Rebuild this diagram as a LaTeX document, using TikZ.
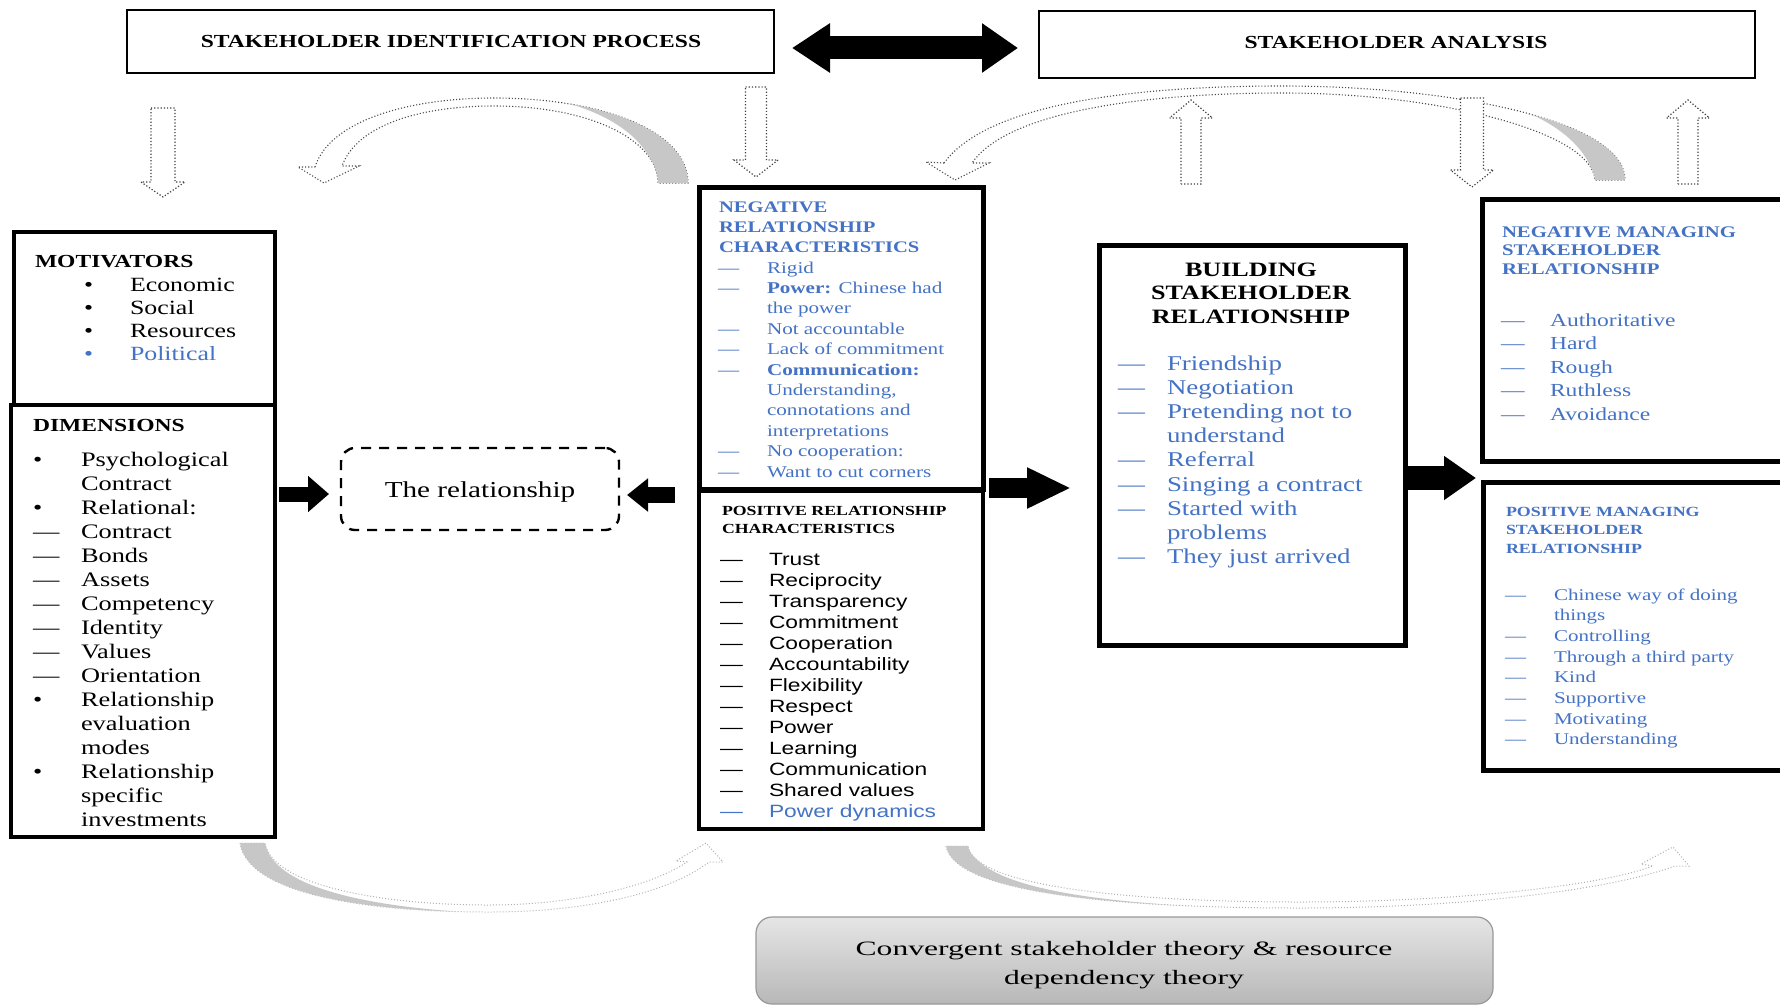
\documentclass[tikz,border=0pt]{standalone}
\usepackage{fontspec}
\setmainfont{Liberation Serif}[FakeStretch=1.28]
\setsansfont{Liberation Sans}[FakeStretch=1.28]
\newfontfamily\widefont{Liberation Serif}[FakeStretch=1.55]
\usetikzlibrary{arrows.meta,fit,calc}
\definecolor{myblue}{RGB}{68,114,196}
\newcommand\fsz[2]{\fontsize{#1}{#2}\selectfont}
\newcommand\mymark[1]{\if#1D—\else\if#1B•\else\if#1C\textcolor{myblue}{•}\else\if#1E\textcolor{myblue}{—}\fi\fi\fi\fi}
\tikzset{
  lst/.style={inner sep=0pt, outer sep=0pt},
  boxframe/.style={draw=black, line width=#1, inner sep=0pt, outer sep=0pt},
  boxframe/.default=2pt,
  hollowarr/.style={fill=white, draw=black!75, densely dotted, line width=0.6pt},
  arcline/.style={fill=white, draw=black!70, densely dotted, line width=0.55pt},
  arclight/.style={fill=white, draw=black!30, densely dotted, line width=0.5pt},
  arcgray/.style={fill=black!22},
}
% list of lines with markers: name, marker x, text x, first baseline, spacing, style, items
\newcommand\itemlist[7]{%
  \foreach \mkr/\txt [count=\i] in {#7}{%
    \if\mkr N\else
      \node[lst,anchor=base west,#6] (#1m\i) at (#2,{#4+(\i-1)*#5}) {\mymark\mkr};
    \fi
    \node[lst,anchor=base west,#6] (#1t\i) at (#3,{#4+(\i-1)*#5}) {\txt};
  }}
\newcommand\headlist[6]{%
  \foreach \txt [count=\i] in {#6}{%
    \node[lst,anchor=base west,#5] (#1\i) at (#2,{#3+(\i-1)*#4}) {\txt};
  }}
% vertical hollow arrow: cx, shaft half width, head half width, y tail, y head base, y tip
\newcommand\hollowv[6]{%
  \draw[hollowarr] (#1-#2,#4) -- (#1+#2,#4) -- (#1+#2,#5) -- (#1+#3,#5) -- (#1,#6) -- (#1-#3,#5) -- (#1-#2,#5) -- cycle;}

\begin{document}
\begin{tikzpicture}[x=0.5pt,y=-0.5pt]
\useasboundingbox (0,0) rectangle (1780,1006);
\clip (0,0) rectangle (1780,1006);
\fill[white] (0,0) rectangle (1780,1006);

% ---------- curved arrows ----------
% top left
\draw[arcline] (315,167) .. controls (330,120) and (410,98) .. (494,98) .. controls (600,98) and (688,130) .. (688,183) -- (658,183) .. controls (658,140) and (590,106) .. (494,106) .. controls (420,106) and (357,125) .. (342,166) -- (359,166) -- (324,183) -- (298,167) -- cycle;
\begin{scope}
\clip (315,167) .. controls (330,120) and (410,98) .. (494,98) .. controls (600,98) and (688,130) .. (688,183) -- (658,183) .. controls (658,140) and (590,106) .. (494,106) .. controls (420,106) and (357,125) .. (342,166) -- (359,166) -- (324,183) -- (298,167) -- cycle;
\fill[arcgray] (658,183) .. controls (652,140) and (610,108) .. (530,95) -- (530,80) -- (700,80) -- (700,190) -- cycle;
\end{scope}
% top right
\draw[arcline] (944,163) .. controls (990,100) and (1150,86) .. (1282,86) .. controls (1450,86) and (1625,120) .. (1625,180) -- (1595,180) .. controls (1592,132) and (1440,93) .. (1282,93) .. controls (1160,93) and (1010,108) .. (972,163) -- (989,163) -- (955,180) -- (926,162) -- cycle;
\begin{scope}
\clip (944,163) .. controls (990,100) and (1150,86) .. (1282,86) .. controls (1450,86) and (1625,120) .. (1625,180) -- (1595,180) .. controls (1592,132) and (1440,93) .. (1282,93) .. controls (1160,93) and (1010,108) .. (972,163) -- (989,163) -- (955,180) -- (926,162) -- cycle;
\fill[arcgray] (1595,180) .. controls (1585,135) and (1530,103) .. (1440,88) -- (1440,70) -- (1640,70) -- (1640,190) -- cycle;
\end{scope}
% bottom left
\draw[arclight] (240,843) .. controls (248,895) and (370,912) .. (489,912) .. controls (590,912) and (670,892) .. (709,862) -- (723,862) -- (706,843) -- (676,861) -- (687,862) .. controls (655,884) and (580,905) .. (489,905) .. controls (380,905) and (272,885) .. (265,843) -- cycle;
\begin{scope}
\clip (240,843) .. controls (248,895) and (370,912) .. (489,912) .. controls (590,912) and (670,892) .. (709,862) -- (723,862) -- (706,843) -- (676,861) -- (687,862) .. controls (655,884) and (580,905) .. (489,905) .. controls (380,905) and (272,885) .. (265,843) -- cycle;
\fill[arcgray] (265,843) .. controls (275,895) and (400,910) .. (500,914) -- (500,930) -- (220,930) -- (220,843) -- cycle;
\end{scope}
% bottom right
\draw[arclight] (946,846) .. controls (955,895) and (1130,908) .. (1300,908) .. controls (1465,908) and (1610,890) .. (1675,866) -- (1689,866) -- (1673,847) -- (1641,864) -- (1653,866) .. controls (1600,886) and (1455,902) .. (1300,902) .. controls (1140,902) and (975,888) .. (968,846) -- cycle;
\begin{scope}
\clip (946,846) .. controls (955,895) and (1130,908) .. (1300,908) .. controls (1465,908) and (1610,890) .. (1675,866) -- (1689,866) -- (1673,847) -- (1641,864) -- (1653,866) .. controls (1600,886) and (1455,902) .. (1300,902) .. controls (1140,902) and (975,888) .. (968,846) -- cycle;
\fill[arcgray] (968,846) .. controls (985,897) and (1150,907) .. (1300,910) -- (1300,930) -- (930,930) -- (930,846) -- cycle;
\end{scope}

% ---------- hollow arrows ----------
\hollowv{163}{12}{22}{108}{182}{197}
\hollowv{756}{10.5}{22}{87}{160}{177}
\hollowv{1191}{10}{21.5}{184}{118}{100}
\hollowv{1472}{11.5}{21.5}{98}{170}{187}
\hollowv{1688}{10}{21.5}{184}{118}{100}

% ---------- boxes ----------
\node[boxframe=0.7pt, fit={(127,10) (774,73)}] (sip) {};
\node[boxframe=0.7pt, fit={(1039,11) (1755,78)}] (sa) {};
\node[boxframe, fit={(14,232) (275,405)}] (mot) {};
\node[boxframe, fit={(11,405) (275,837)}] (dim) {};
\node[boxframe=2.5pt, fit={(699,187) (983,489)}] (neg) {};
\node[boxframe=2pt, fit={(699,491) (983,829)}] (pos) {};
\node[boxframe=2.5pt, fit={(1099,245) (1405,645)}] (bld) {};
\node[boxframe=2.5pt, fit={(1482,199) (1800,461)}] (negm) {};
\node[boxframe=2.5pt, fit={(1483,482) (1800,770)}] (posm) {};
\node[draw=black, line width=1.2pt, dash pattern=on 5pt off 4pt, rounded corners=7pt, inner sep=0pt, outer sep=0pt, fit={(341,448) (619,530)}] (rel) {};
\node[draw=black!40, line width=0.6pt, rounded corners=8pt, top color=black!10, bottom color=black!28, inner sep=0pt, outer sep=0pt, fit={(756,917) (1493,1004)}] (theory) {};

% ---------- texts ----------
\node[lst, anchor=base, font=\bfseries\fsz{9.2pt}{11pt}] (siptxt) at (451,48) {STAKEHOLDER IDENTIFICATION PROCESS};
\node[lst, anchor=base, font=\bfseries\fsz{9.2pt}{11pt}] (satxt) at (1396,49) {STAKEHOLDER ANALYSIS};
\node[lst, anchor=base, font=\fsz{11.4pt}{13pt}] (reltxt) at (480,497) {The relationship};
\node[lst, anchor=base, font=\widefont\fsz{10.2pt}{12pt}] (th1) at (1124,955) {Convergent stakeholder theory \& resource};
\node[lst, anchor=base, font=\widefont\fsz{10.2pt}{12pt}] (th2) at (1124,984) {dependency theory};

\headlist{moth}{35}{267}{0}{font=\bfseries\fsz{9.2pt}{11pt}}{MOTIVATORS}
\itemlist{moti}{84}{130}{291}{23}{font=\fsz{10.1pt}{12pt}}{B/Economic, B/Social, B/Resources, C/\textcolor{myblue}{Political}}

\headlist{dimh}{33}{431}{0}{font=\bfseries\fsz{9.2pt}{11pt}}{DIMENSIONS}
\itemlist{dimi}{33}{81}{466}{24}{font=\fsz{10.3pt}{12pt}}{B/Psychological, N/Contract, B/Relational:, D/Contract, D/Bonds, D/Assets, D/Competency, D/Identity, D/Values, D/Orientation, B/Relationship, N/evaluation, N/modes, B/Relationship, N/specific, N/investments}

\headlist{negh}{719}{212}{20}{text=myblue, font=\bfseries\fsz{8.05pt}{10pt}}{NEGATIVE, RELATIONSHIP, CHARACTERISTICS}
\itemlist{negi}{718}{767}{273}{20.4}{text=myblue, font=\fsz{8.25pt}{10pt}}{D/Rigid, D/{\textbf{Power:} Chinese had}, N/the power, D/Not accountable, D/Lack of commitment, D/{\textbf{Communication:}}, N/{Understanding,}, N/connotations and, N/interpretations, D/No cooperation:, D/Want to cut corners}

\headlist{posh}{722}{515}{18}{font=\bfseries\fsz{6.95pt}{9pt}}{POSITIVE RELATIONSHIP, CHARACTERISTICS}
\itemlist{posi}{720}{769}{565}{21}{font=\sffamily\fsz{8.9pt}{10.5pt}}{D/Trust, D/Reciprocity, D/Transparency, D/Commitment, D/Cooperation, D/Accountability, D/Flexibility, D/Respect, D/Power, D/Learning, D/Communication, D/Shared values, E/\textcolor{myblue}{Power dynamics}}

\headlist{bldh}{1251}{276}{23.5}{anchor=base, font=\bfseries\fsz{10.2pt}{12pt}}{BUILDING, STAKEHOLDER, RELATIONSHIP}
\itemlist{bldi}{1118}{1167}{370}{24.2}{text=myblue, font=\fsz{10.5pt}{12pt}}{D/Friendship, D/Negotiation, D/Pretending not to, N/understand, D/Referral, D/Singing a contract, D/Started with, N/problems, D/They just arrived}

\headlist{negmh}{1502}{237}{18.5}{text=myblue, font=\bfseries\fsz{8.1pt}{10pt}}{NEGATIVE MANAGING, STAKEHOLDER, RELATIONSHIP}
\itemlist{negmi}{1501}{1550}{326}{23.5}{text=myblue, font=\fsz{9.2pt}{11pt}}{D/Authoritative, D/Hard, D/Rough, D/Ruthless, D/Avoidance}

\headlist{posmh}{1506}{516}{18.5}{text=myblue, font=\bfseries\fsz{7pt}{9pt}}{POSITIVE MANAGING, STAKEHOLDER, RELATIONSHIP}
\itemlist{posmi}{1505}{1554}{600}{20.7}{text=myblue, font=\fsz{8.2pt}{10pt}}{D/Chinese way of doing, N/things, D/Controlling, D/Through a third party, D/Kind, D/Supportive, D/Motivating, D/Understanding}

% ---------- black block arrows ----------
\draw[line width=11.5pt, {Triangle[length=19pt,width=23.5pt]}-{Triangle[length=18pt,width=23.5pt]}] ($(sip.east)+(9pt,-3.25pt)$) -- ($(sa.west)+(-10.5pt,-1.75pt)$);
\draw[line width=7.5pt, -{Triangle[length=10.5pt,width=17.5pt]}] ($(dim.east |- rel.west)+(2pt,-2.5pt)$) -- ($(rel.west)+(-6pt,-2.5pt)$);
\draw[line width=8pt, -{Triangle[length=10.5pt,width=16pt]}] ($(pos.north west)+(-12pt,-2pt)$) -- ($(rel.east)+(4pt,-3pt)$);
\draw[line width=10pt, -{Triangle[length=22pt,width=19pt]}] ($(neg.south east)+(3pt,0.5pt)$) -- ($(bld.west |- neg.south east)+(-14pt,0.5pt)$);
\draw[line width=12pt, -{Triangle[length=16pt,width=21pt]}] ($(bld.east |- negm.south west)+(1.5pt,-8.5pt)$) -- ($(negm.south west)+(-3pt,-8.5pt)$);
\end{tikzpicture}
\end{document}
